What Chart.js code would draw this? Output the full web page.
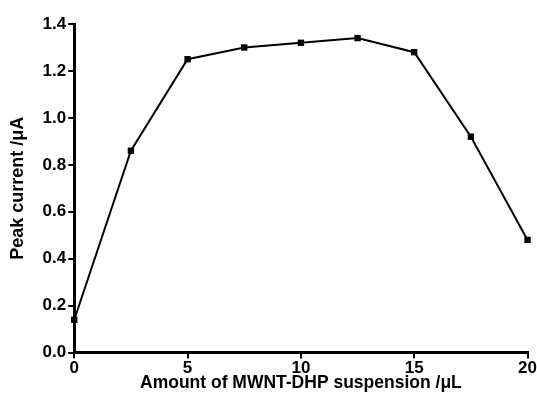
<!DOCTYPE html>
<html>
<head>
<meta charset="utf-8">
<script src="https://cdn.jsdelivr.net/npm/chart.js@4/dist/chart.umd.min.js"></script>
<style>
  html, body { margin: 0; padding: 0; background: #fff; }
  #wrap { width: 537px; height: 394px; }
</style>
</head>
<body>
<div id="wrap"><canvas id="c"></canvas></div>
<script>
// data
const amounts = [0, 2.5, 5, 7.5, 10, 12.5, 15, 17.5, 20];
const peakCurrent = [0.14, 0.86, 1.25, 1.30, 1.32, 1.34, 1.28, 0.92, 0.48];
const xTicks = [0, 5, 10, 15, 20];
const yTicks = [0, 0.2, 0.4, 0.6, 0.8, 1.0, 1.2, 1.4];

const family = 'Liberation Sans, Arial, sans-serif';
const tickFont = { family: family, size: 17, weight: 'bold' };

new Chart(document.getElementById('c'), {
    type: 'line',
    data: {
        datasets: [{
            data: amounts.map((x, i) => ({ x: x, y: peakCurrent[i] })),
            borderColor: '#000',
            borderWidth: 2,
            backgroundColor: '#000',
            pointStyle: 'rect',
            pointRadius: 4.5,
            pointBorderWidth: 0,
            clip: false,
            tension: 0
        }]
    },
    options: {
        responsive: true,
        maintainAspectRatio: false,
        animation: false,
        layout: { padding: { top: 24, right: 0, left: 7, bottom: 0 } },
        plugins: { legend: { display: false }, tooltip: { enabled: false } },
        scales: {
            x: {
                type: 'linear',
                min: 0, max: 20,
                afterBuildTicks: s => { s.ticks = xTicks.map(v => ({ value: v })); },
                grid: { drawOnChartArea: false, tickLength: 6, tickColor: '#000', lineWidth: 2 },
                border: { color: '#000', width: 3 },
                ticks: { color: '#000', font: tickFont, padding: 0, maxRotation: 0 },
                title: {
                    display: true,
                    text: 'Amount of MWNT-DHP suspension /\u03bcL',
                    color: '#000', font: { family: family, size: 17.5, weight: 'bold' },
                    padding: { top: -6, bottom: 0 }
                }
            },
            y: {
                min: 0, max: 1.4,
                afterBuildTicks: s => { s.ticks = yTicks.map(v => ({ value: v })); },
                grid: { drawOnChartArea: false, tickLength: 6, tickColor: '#000', lineWidth: 2 },
                border: { color: '#000', width: 3 },
                ticks: { color: '#000', font: tickFont, padding: 2, callback: v => v.toFixed(1) },
                title: {
                    display: true,
                    text: 'Peak current /\u03bcA',
                    color: '#000', font: { family: family, size: 18, weight: 'bold' },
                    padding: { top: 0, bottom: 12 }
                }
            }
        }
    }
});
</script>
</body>
</html>
